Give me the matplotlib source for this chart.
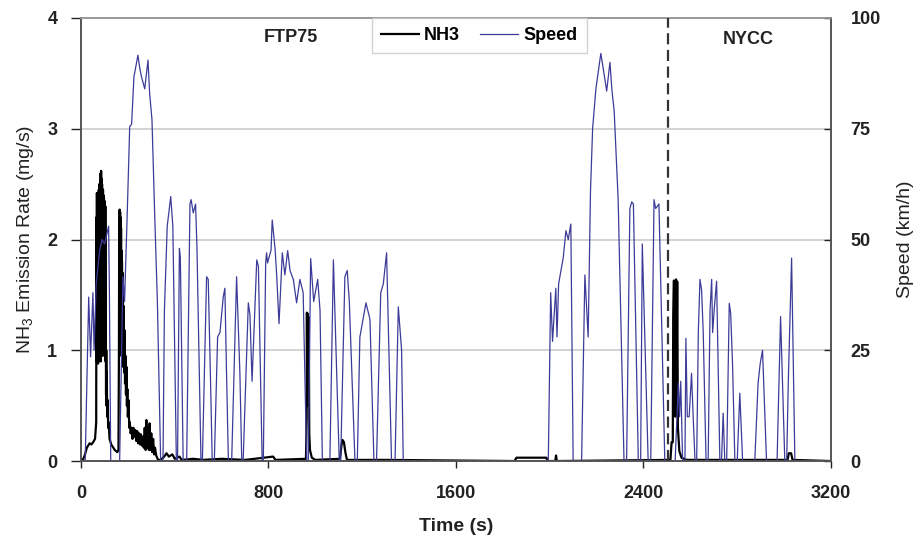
import matplotlib
matplotlib.use('Agg')
import matplotlib.pyplot as plt

plt.rcParams['font.family'] = ['Liberation Sans', 'DejaVu Sans']
plt.rcParams['mathtext.fontset'] = 'custom'
plt.rcParams['mathtext.rm'] = 'Liberation Sans'

# speed trace (km/h), breakpoints
speed_t = [0, 18, 33, 41, 51, 56, 65, 80, 90, 101, 118, 121, 127,
           165, 179, 186, 198, 208, 216, 226, 243, 250, 257, 272, 286, 293, 303, 314, 326, 340,
           350, 356, 368, 383, 392, 407,
           412, 420, 424, 436,
           451, 465, 470, 479, 489, 495, 512,
           518, 536, 543, 552, 560,
           569, 583, 593, 607, 614, 621, 629,
           643, 664, 678, 686,
           692, 714, 721, 730, 750, 757, 773,
           778, 788, 792, 796, 811, 816, 828, 835, 845, 859, 870, 882, 892, 906, 920, 934, 948, 963,
           970, 980, 993, 1010, 1020, 1030,
           1062, 1077, 1102,
           1108, 1126, 1136, 1145, 1169,
           1179, 1190, 1216, 1233, 1250,
           1261, 1279, 1290, 1304, 1325,
           1340, 1354, 1368, 1375,
           1994, 2004, 2012, 2026, 2031, 2038, 2058, 2069, 2079, 2090, 2100,
           2136, 2150, 2164, 2174, 2183, 2197, 2218, 2230, 2243, 2257, 2265, 2275, 2292, 2317,
           2328, 2342, 2350, 2357, 2378,
           2388, 2395, 2420,
           2431, 2445, 2452, 2466, 2491,
           2535, 2549, 2554, 2559, 2567,
           2577, 2581, 2587, 2595, 2605, 2612, 2620,
           2627, 2634, 2641, 2648, 2655, 2667,
           2676, 2684, 2691, 2695, 2703, 2712, 2719, 2726,
           2733, 2740, 2747,
           2755, 2766, 2772, 2780, 2790,
           2800, 2811, 2823,
           2875, 2889, 2898, 2908, 2925,
           2970, 2985, 3003,
           3011, 3018, 3032, 3046,
           3200]
speed_v = [0, 0, 37, 23.5, 38, 25, 40, 47.6, 50, 49, 53, 40, 0,
           0, 41.6, 36, 57, 75.5, 76, 86.7, 91.6, 89, 87, 84, 90.5, 83, 77, 56.6, 36, 0,
           0, 34, 53, 59.7, 53, 0,
           0, 48, 46, 0,
           0, 58, 59, 56, 58, 48, 0,
           0, 41.6, 41, 20, 0,
           0, 28, 29, 37, 39, 20, 0,
           0, 41.6, 20, 0,
           0, 35.7, 33, 18, 45.4, 44, 0,
           0, 44.7, 47, 44.7, 47.6, 54.4, 48, 42, 31, 47, 42, 47.5, 43, 41, 35.7, 41, 38, 0,
           0, 45.7, 36, 41, 34, 0,
           0, 45.4, 0,
           0, 41.6, 43, 36, 0,
           0, 28, 35.7, 32, 0,
           0, 38, 40, 47, 0,
           0, 34.8, 25, 0,
           0, 38, 27, 39, 28, 40, 46, 52, 50, 53.5, 0,
           0, 42, 28, 61, 75, 84, 92, 88, 83.5, 90, 84, 79, 59, 0,
           0, 57, 58.5, 58, 0,
           0, 49, 0,
           0, 59, 57, 58, 0,
           0, 17.6, 10, 18, 0,
           0, 27.7, 10, 10, 19.8, 10, 0,
           0, 29, 41, 38.6, 29, 0,
           0, 34, 41, 29, 35, 40.6, 20, 0,
           0, 10.8, 0,
           0, 35.6, 33.4, 22, 0,
           0, 15.3, 0,
           0, 17.6, 22, 25, 0,
           0, 32.6, 0,
           0, 18, 45.8, 0,
           0]

# NH3 emission rate (mg/s)
nh3_t = [0, 10, 16, 25, 37, 45, 52, 60, 65,
         66, 67, 68, 69, 70, 71, 72, 73, 74, 75, 76, 77, 78, 79, 80, 81, 82, 83, 84, 85,
         86, 87, 88, 89, 90, 91, 92, 93, 94, 95, 96, 97, 98, 99, 100, 101, 102, 103, 104, 105,
         106, 107, 108, 109, 110, 112, 114, 116, 118, 122, 129, 144, 155, 160,
         162, 163, 164, 165, 166, 167, 168, 169, 170, 171, 172, 173, 174, 175, 176, 177, 178,
         179, 180, 182, 184, 186, 188, 190, 192, 194, 196, 198, 200, 203, 206, 208, 212, 216,
         220, 224, 228, 232, 236, 240, 244, 248, 252, 256, 260, 264, 268, 272, 276, 279, 282,
         286, 290, 293, 296, 300, 304, 308, 312, 316, 321, 329,
         340, 355, 365, 375, 390, 400, 420, 430, 480, 520, 600, 700, 820, 830,
         960, 963, 964, 966, 968, 970, 972, 974, 977, 985, 1000,
         1105, 1112, 1116, 1122, 1128, 1135, 1300,
         1850, 1858, 1986, 1990, 2024, 2027, 2030,
         2515, 2520, 2525, 2527, 2530, 2532, 2534, 2536, 2539, 2541, 2544, 2547, 2553, 2562, 2584,
         3015, 3020, 3030, 3036, 3200]
nh3_v = [0.0, 0.02, 0.05, 0.12, 0.16, 0.15, 0.17, 0.2, 0.35,
         2.2, 0.9, 2.42, 1.0, 2.35, 0.95, 2.42, 0.88, 2.4, 1.0, 2.45, 0.9, 2.5, 1.1, 2.45, 0.95, 2.55, 1.0, 2.6, 0.9,
         2.62, 1.0, 2.55, 0.95, 2.5, 1.05, 2.45, 0.95, 2.45, 1.0, 2.4, 1.1, 2.38, 1.0, 2.35, 1.05, 2.3, 1.0, 2.3, 0.9,
         1.2, 0.6, 1.0, 0.5, 0.8, 0.4, 0.55, 0.3, 0.35, 0.2, 0.15, 0.1, 0.08, 0.1,
         1.0, 2.0, 1.1, 2.27, 1.2, 2.25, 1.0, 2.2, 1.1, 2.1, 0.95, 1.9, 1.0, 1.8, 0.9, 1.7, 0.95,
         1.66, 0.85, 1.4, 0.8, 1.18, 0.7, 0.95, 0.6, 0.85, 0.5, 0.65, 0.4, 0.55, 0.3, 0.35, 0.25, 0.3,
         0.2, 0.3, 0.22, 0.28, 0.18, 0.27, 0.16, 0.25, 0.15, 0.24, 0.14, 0.22, 0.12, 0.3, 0.1, 0.37, 0.12,
         0.3, 0.1, 0.34, 0.1, 0.25, 0.08, 0.2, 0.06, 0.12, 0.05, 0.01,
         0.01, 0.04, 0.07, 0.04, 0.06, 0.02, 0.04, 0.01, 0.02, 0.01, 0.02, 0.01, 0.04, 0.01,
         0.02, 0.4, 1.34, 0.5, 1.33, 0.6, 1.3, 0.25, 0.1, 0.03, 0.01,
         0.02, 0.15, 0.19, 0.17, 0.08, 0.01, 0.01,
         0.0, 0.03, 0.03, 0.0, 0.0, 0.05, 0.0,
         0.01, 0.17, 0.17, 1.3, 1.63, 0.5, 1.6, 0.4, 1.64, 0.6, 1.62, 0.3, 0.09, 0.03, 0.01,
         0.01, 0.07, 0.07, 0.01, 0.0]

x_ticks = [0, 800, 1600, 2400, 3200]
nh3_ticks = [0, 1, 2, 3, 4]
speed_ticks = [0, 25, 50, 75, 100]
cycle_split = 2503
speed_color = '#3c3c98'

fig = plt.figure(figsize=(9.18, 5.42), dpi=100)
ax = fig.add_axes([0.0882, 0.1494, 0.8170, 0.8174])
ax2 = ax.twinx()

ax.set_xlim(0, 3200)
ax.set_ylim(0, 4)
ax2.set_ylim(0, 100)

for g in nh3_ticks[1:-1]:
    ax.axhline(g, color='#cccccc', lw=1.2, zorder=0)

ln1, = ax.plot(nh3_t, nh3_v, color='black', lw=1.6, label='NH3', zorder=2)
ln2, = ax2.plot(speed_t, speed_v, color=speed_color, lw=0.9, label='Speed', zorder=2)
ax2.axvline(cycle_split, color='#333333', lw=1.6, ls=(0, (5, 2.5)), zorder=3)

tick_font = dict(fontsize=13, fontweight='bold')
ax.set_xticks(x_ticks)
ax.set_xticklabels([str(v) for v in x_ticks], **tick_font)
ax.set_yticks(nh3_ticks)
ax.set_yticklabels([str(v) for v in nh3_ticks], **tick_font)
ax2.set_yticks(speed_ticks)
ax2.set_yticklabels([str(v) for v in speed_ticks], **tick_font)

ax.tick_params(axis='x', direction='out', length=5, width=1, pad=12, colors='#222222')
ax.tick_params(axis='y', direction='out', length=7, width=1, pad=10, colors='#222222')
ax2.tick_params(axis='y', direction='in', length=5, width=1, pad=14, colors='#222222')

for a in (ax, ax2):
    for side in ('left', 'right', 'bottom'):
        a.spines[side].set_color('#555555')
        a.spines[side].set_linewidth(1.2)
    a.spines['top'].set_color('#999999')
    a.spines['top'].set_linewidth(1.2)

ax.set_xlabel('Time (s)', fontsize=14, fontweight='bold', labelpad=12, color='#222222')
ax.set_ylabel(r'NH$_\mathregular{3}$ Emission Rate (mg/s)', fontsize=14, labelpad=8, color='#222222')
ax2.set_ylabel('Speed (km/h)', fontsize=14, labelpad=12, color='#222222')

ax.text(896, 3.82, 'FTP75', fontsize=13, fontweight='bold', ha='center', va='center', color='#222222')
ax.text(2846, 3.81, 'NYCC', fontsize=13, fontweight='bold', ha='center', va='center', color='#222222')

leg = ax2.legend([ln1, ln2], ['NH3', 'Speed'], ncol=2, loc='upper center',
                 bbox_to_anchor=(0.531, 1.0), borderaxespad=0, fancybox=False,
                 prop=dict(size=13, weight='bold'), handlelength=2.1, handletextpad=0.3,
                 columnspacing=1.1, borderpad=0.5)
leg.get_frame().set_edgecolor('#c8c8c8')
leg.get_frame().set_linewidth(1.0)
leg.set_zorder(10)

fig.savefig('out.png', dpi=100)
